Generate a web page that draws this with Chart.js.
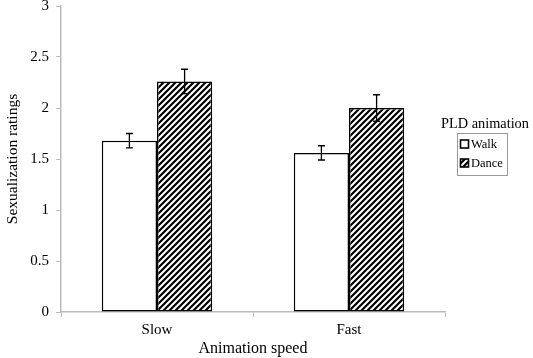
<!DOCTYPE html>
<html>
<head>
<meta charset="utf-8">
<script src="https://cdn.jsdelivr.net/npm/chart.js@4"></script>
<style>
  body { margin: 0; background: #fff; }
  #wrap { width: 533px; height: 358px; }
</style>
</head>
<body>
<div id="wrap"><canvas id="speedChart" width="533" height="358"></canvas></div>
<script>
const speeds = ['Slow', 'Fast'];
const walkMeans = [1.68, 1.56];
const walkErrors = [0.07, 0.07];
const danceMeans = [2.26, 2.0];
const danceErrors = [0.12, 0.13];
const yTicks = [0, 0.5, 1, 1.5, 2, 2.5, 3];

const serif = '"Liberation Serif", "Times New Roman", serif';

function makeHatch() {
    const size = 6;
    const c = document.createElement('canvas');
    c.width = size;
    c.height = size;
    const g = c.getContext('2d');
    g.fillStyle = '#fff';
    g.fillRect(0, 0, size, size);
    g.strokeStyle = '#000';
    g.lineWidth = 2.2;
    g.beginPath();
    g.moveTo(0, size); g.lineTo(size, 0);
    g.moveTo(-size / 2, size / 2); g.lineTo(size / 2, -size / 2);
    g.moveTo(size / 2, size * 1.5); g.lineTo(size * 1.5, size / 2);
    g.stroke();
    return g.createPattern(c, 'repeat');
}

const ctx = document.getElementById('speedChart').getContext('2d');
const hatch = makeHatch();

// error bars drawn with the value scale
const errorBars = {
    id: 'errorBars',
    afterDatasetsDraw(chart) {
        const {ctx} = chart;
        const yScale = chart.scales.y;
        const errs = [walkErrors, danceErrors];
        ctx.save();
        ctx.strokeStyle = '#000';
        ctx.lineWidth = 1.3;
        chart.data.datasets.forEach((ds, i) => {
            chart.getDatasetMeta(i).data.forEach((bar, j) => {
                const v = ds.data[j];
                const top = yScale.getPixelForValue(v + errs[i][j]);
                const bot = yScale.getPixelForValue(v - errs[i][j]);
                const x = bar.x;
                ctx.beginPath();
                ctx.moveTo(x, top); ctx.lineTo(x, bot);
                ctx.moveTo(x - 3.5, top); ctx.lineTo(x + 3.5, top);
                ctx.moveTo(x - 3.5, bot); ctx.lineTo(x + 3.5, bot);
                ctx.stroke();
            });
        });
        ctx.restore();
    }
};

// legend with title outside a framed box
const boxLegend = {
    id: 'boxLegend',
    afterDraw(chart) {
        const {ctx} = chart;
        ctx.save();
        ctx.fillStyle = '#000';
        ctx.textBaseline = 'middle';
        ctx.textAlign = 'left';
        let size = 16;
        ctx.font = size + 'px ' + serif;
        const w = ctx.measureText('PLD animation').width;
        if (w > 88) {
            size = size * 88 / w;
            ctx.font = size + 'px ' + serif;
        }
        ctx.fillText('PLD animation', 441, 124);

        ctx.strokeStyle = '#999';
        ctx.lineWidth = 1;
        ctx.strokeRect(457.5, 133.5, 50, 42);

        ctx.font = '12.5px ' + serif;
        chart.data.datasets.forEach((ds, i) => {
            const y = 144 + i * 19;
            ctx.fillStyle = ds.backgroundColor;
            ctx.fillRect(460.5, y - 4, 8, 8);
            ctx.strokeStyle = '#000';
            ctx.lineWidth = 1.6;
            ctx.strokeRect(460.5, y - 4, 8, 8);
            ctx.fillStyle = '#000';
            ctx.fillText(ds.label, 471, y + 1);
        });
        ctx.restore();
    }
};

new Chart(ctx, {
    type: 'bar',
    data: {
        labels: speeds,
        datasets: [
            {
                label: 'Walk',
                data: walkMeans,
                backgroundColor: '#fff',
                borderColor: '#000',
                borderWidth: 1.5,
                borderSkipped: false
            },
            {
                label: 'Dance',
                data: danceMeans,
                backgroundColor: hatch,
                borderColor: '#000',
                borderWidth: 1.5,
                borderSkipped: false
            }
        ]
    },
    options: {
        responsive: false,
        animation: false,
        layout: { padding: { left: 4, right: 88, top: 6, bottom: 0 } },
        datasets: {
            bar: { categoryPercentage: 0.575, barPercentage: 1 }
        },
        plugins: {
            legend: { display: false },
            tooltip: { enabled: false }
        },
        scales: {
            x: {
                offset: true,
                grid: {
                    offset: true,
                    drawOnChartArea: false,
                    tickLength: 5,
                    color: '#bbb'
                },
                border: { color: '#bbb', width: 1.5 },
                ticks: {
                    color: '#000',
                    font: { family: serif, size: 15 },
                    padding: 4
                },
                title: {
                    display: true,
                    text: 'Animation speed',
                    color: '#000',
                    font: { family: serif, size: 16 },
                    padding: { top: 2, bottom: 0 }
                },
                afterFit(axis) {
                    axis.height = 46;
                    axis.paddingLeft = 0;
                    axis.paddingRight = 0;
                }
            },
            y: {
                min: 0,
                max: 3,
                afterBuildTicks(axis) {
                    axis.ticks = yTicks.map(v => ({ value: v }));
                },
                grid: {
                    drawOnChartArea: false,
                    tickLength: 5,
                    color: '#bbb'
                },
                border: { color: '#bbb', width: 1.5 },
                ticks: {
                    color: '#000',
                    font: { family: serif, size: 15 },
                    padding: 7,
                    callback: v => String(v)
                },
                title: {
                    display: true,
                    text: 'Sexualization ratings',
                    color: '#000',
                    font: { family: serif, size: 15.5 },
                    padding: { top: 0, bottom: 4 }
                },
                afterFit(axis) {
                    axis.width = 57;
                    axis.paddingTop = 0;
                    axis.paddingBottom = 0;
                }
            }
        }
    },
    plugins: [errorBars, boxLegend]
});
</script>
</body>
</html>
